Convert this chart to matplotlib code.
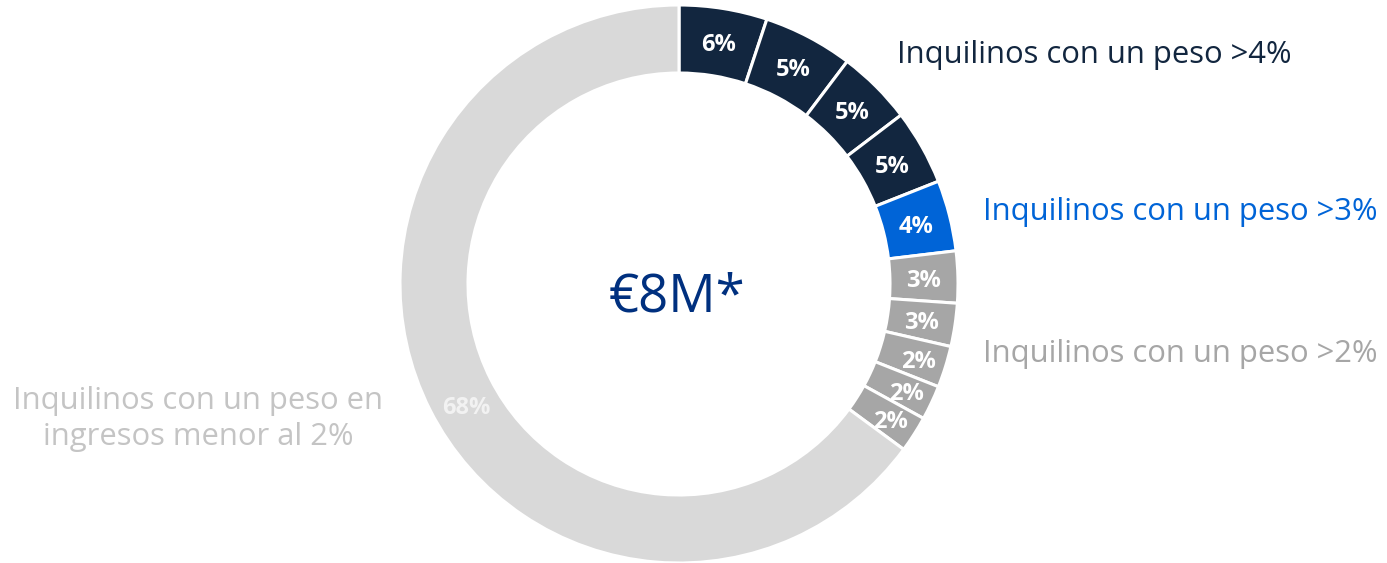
import numpy as np
import matplotlib
matplotlib.use("Agg")
import matplotlib.pyplot as plt

plt.rcParams['font.family'] = ['Open Sans', 'DejaVu Sans']

# slice shares as drawn, clockwise from the top
values = [5.1, 5.2, 4.35, 4.35, 4.1, 3.0, 2.5, 2.4, 2.0, 2.1, 64.9]
# printed labels
labels = ['6%', '5%', '5%', '5%', '4%', '3%', '3%', '2%', '2%', '2%', '68%']
colors = ['#12263f'] * 4 + ['#0064d7'] + ['#a6a6a6'] * 5 + ['#d9d9d9']

W, H = 1387, 563
fig = plt.figure(figsize=(W / 100, H / 100), dpi=100)
ax = fig.add_axes([0, 0, 1, 1])

cx, cy = 679, H - 284
R, width = 279, 68

wedges, _ = ax.pie(values, colors=colors, startangle=90, counterclock=False,
                   center=(cx, cy), radius=R,
                   wedgeprops=dict(width=width, edgecolor='white', linewidth=2.2),
                   frame=True)
ax.set_xlim(0, W)
ax.set_ylim(0, H)
ax.set_aspect('equal')
ax.axis('off')

for w, lab in zip(wedges, labels):
    ang = np.deg2rad((w.theta1 + w.theta2) / 2)
    rl = R - width / 2 + (6 if lab == '2%' else 0)
    x = cx + rl * np.cos(ang)
    y = cy + rl * np.sin(ang) - 3
    if lab == '68%':
        x, y = x + 6, y - 10
    ax.text(x, y, lab, ha='center', va='center',
            color='#f2f2f2' if lab == '68%' else 'white',
            fontsize=17, fontweight='bold')

ax.text(cx - 2, H - 298, '€8M*', ha='center', va='center', color='#00307f',
        fontsize=38)

ax.text(897, H - 55, 'Inquilinos con un peso >4%', ha='left', va='center',
        color='#12263f', fontsize=22.3)
ax.text(983, H - 212, 'Inquilinos con un peso >3%', ha='left', va='center',
        color='#0064d7', fontsize=22.3)
ax.text(983, H - 354, 'Inquilinos con un peso >2%', ha='left', va='center',
        color='#a6a6a6', fontsize=22.3)
ax.text(198, H - 419, 'Inquilinos con un peso en\ningresos menor al 2%',
        ha='center', va='center', color='#c4c4c4', fontsize=22.3,
        linespacing=1.27)

fig.savefig('out.png', dpi=100)
